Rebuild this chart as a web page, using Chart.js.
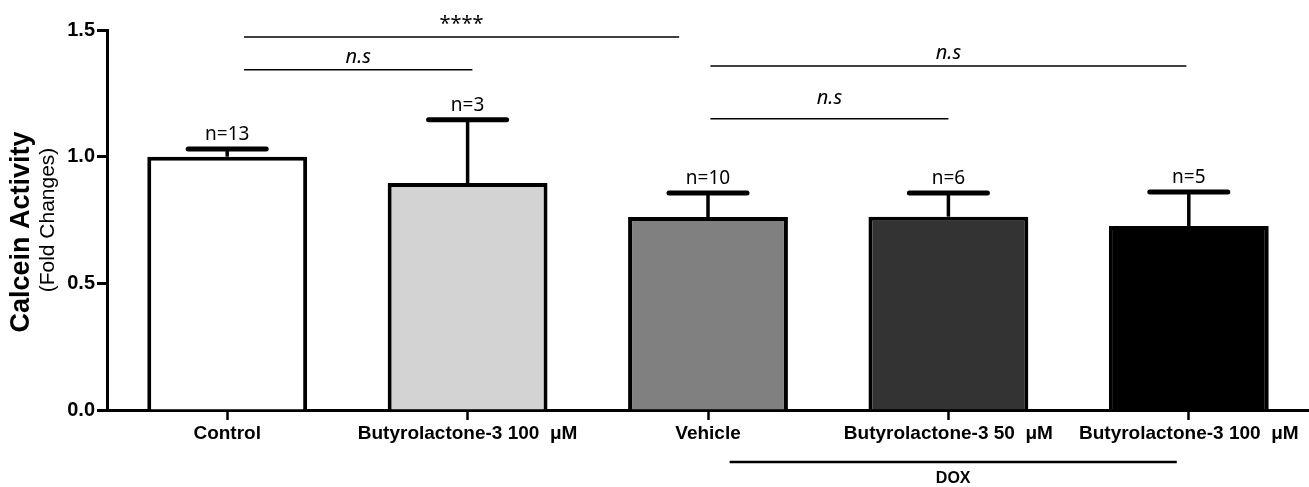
<!DOCTYPE html>
<html>
<head>
<meta charset="utf-8">
<script src="https://cdn.jsdelivr.net/npm/chart.js@4.4.1/dist/chart.umd.min.js"></script>
<style>
	html, body { margin: 0; padding: 0; background: #fff; }
	#wrap { width: 1309px; height: 487px; }
</style>
</head>
<body>
<div id="wrap"><canvas id="calcein_bar" width="1309" height="487"></canvas></div>
<script>
// values
const categories = ['Control', 'Butyrolactone-3 100  μM', 'Vehicle', 'Butyrolactone-3 50  μM', 'Butyrolactone-3 100  μM'];
const meanValues = [1.0, 0.896, 0.762, 0.763, 0.726];
const semValues = [0.03, 0.25, 0.095, 0.094, 0.135];
const nCounts = [13, 3, 10, 6, 5];
const barColors = ['#ffffff', '#d3d3d3', '#808080', '#333333', '#000000'];
const yTicks = [0, 0.5, 1.0, 1.5];

// significance lines: from / to category index, line value, label value
const sigFrom = [0.07, 0.07, 2.01, 2.01];
const sigTo = [1.88, 1.02, 3.99, 3.0];
const sigLine = [1.472, 1.343, 1.358, 1.15];
const sigText = ['****', 'n.s', 'n.s', 'n.s'];
const sigTextY = [1.524, 1.394, 1.409, 1.232];

// DOX group under the axis
const doxSpan = [2.09, 3.95];
const doxLineY = -0.205;
const doxTextY = -0.272;

const extrasPlugin = {
	id: 'extras',
	afterDraw(chart) {
		const ctx = chart.ctx;
		const x = chart.scales.x;
		const y = chart.scales.y;
		const step = x.width / categories.length;
		const xAt = f => x.left + (f + 0.5) * step;
		ctx.save();
		ctx.strokeStyle = '#000';
		ctx.fillStyle = '#000';

		// error bars + n labels
		meanValues.forEach((m, i) => {
			const cx = x.getPixelForValue(i);
			const top = y.getPixelForValue(m);
			const cap = y.getPixelForValue(m + semValues[i]);
			ctx.lineWidth = 3.5;
			ctx.lineCap = 'butt';
			ctx.beginPath();
			ctx.moveTo(cx, top);
			ctx.lineTo(cx, cap);
			ctx.stroke();
			ctx.lineWidth = 5;
			ctx.lineCap = 'round';
			ctx.beginPath();
			ctx.moveTo(cx - 39, cap);
			ctx.lineTo(cx + 39, cap);
			ctx.stroke();
			ctx.font = '19px "Noto Sans"';
			ctx.textAlign = 'center';
			ctx.textBaseline = 'middle';
			ctx.fillText('n=' + nCounts[i], cx, cap - 14);
		});

		// significance lines
		ctx.lineCap = 'butt';
		sigText.forEach((t, i) => {
			const x1 = xAt(sigFrom[i]);
			const x2 = xAt(sigTo[i]);
			const ly = y.getPixelForValue(sigLine[i]);
			ctx.lineWidth = 1.5;
			ctx.beginPath();
			ctx.moveTo(x1, ly);
			ctx.lineTo(x2, ly);
			ctx.stroke();
			ctx.font = (t === '****' ? '' : 'italic ') + '20px "Noto Sans"';
			ctx.textAlign = 'center';
			ctx.textBaseline = 'middle';
			ctx.fillText(t, (x1 + x2) / 2, y.getPixelForValue(sigTextY[i]));
		});

		// DOX bracket
		const d1 = xAt(doxSpan[0]);
		const d2 = xAt(doxSpan[1]);
		const dy = y.getPixelForValue(doxLineY);
		ctx.lineWidth = 2.5;
		ctx.beginPath();
		ctx.moveTo(d1, dy);
		ctx.lineTo(d2, dy);
		ctx.stroke();
		ctx.font = 'bold 16px "Liberation Sans"';
		ctx.fillText('DOX', (d1 + d2) / 2, y.getPixelForValue(doxTextY));

		// y axis titles
		ctx.save();
		ctx.translate(22, 232);
		ctx.rotate(-Math.PI / 2);
		ctx.font = 'bold 27px "Liberation Sans"';
		ctx.fillText('Calcein Activity', 0, 0);
		ctx.restore();
		ctx.save();
		ctx.translate(48, 220);
		ctx.rotate(-Math.PI / 2);
		ctx.font = '21px "Liberation Sans"';
		ctx.fillText('(Fold Changes)', 0, 0);
		ctx.restore();

		ctx.restore();
	}
};

const data = {
	labels: categories,
	datasets: [{
		data: meanValues,
		backgroundColor: barColors,
		borderColor: '#000',
		borderWidth: 4,
		barPercentage: 0.665,
		categoryPercentage: 1
	}]
};

const config = {
	type: 'bar',
	data: data,
	options: {
		responsive: false,
		animation: false,
		devicePixelRatio: 1,
		layout: { padding: { top: 30, left: 0, right: 0, bottom: 0 } },
		scales: {
			x: {
				z: 1,
				offset: true,
				afterFit: s => { s.height = 77; },
				grid: { offset: false, drawOnChartArea: false, tickLength: 10, tickWidth: 2.5, color: '#000' },
				border: { display: true, color: '#000', width: 3 },
				ticks: {
					color: '#000',
					font: { family: 'Liberation Sans', size: 19, weight: 'bold' },
					maxRotation: 0,
					minRotation: 0,
					autoSkip: false,
					padding: 2
				}
			},
			y: {
				z: 1,
				min: 0,
				max: 1.5,
				afterFit: s => { s.width = 107; },
				afterBuildTicks: s => { s.ticks = yTicks.map(v => ({ value: v })); },
				grid: { drawOnChartArea: false, tickLength: 10, tickWidth: 3, color: '#000' },
				border: { display: true, color: '#000', width: 3 },
				ticks: {
					color: '#000',
					font: { family: 'Liberation Sans', size: 20, weight: 'bold' },
					padding: 2,
					callback: v => Number(v).toFixed(1)
				}
			}
		},
		plugins: {
			legend: { display: false },
			tooltip: { enabled: false }
		}
	},
	plugins: [extrasPlugin]
};

const chart = new Chart(document.getElementById('calcein_bar').getContext('2d'), config);
</script>
</body>
</html>
